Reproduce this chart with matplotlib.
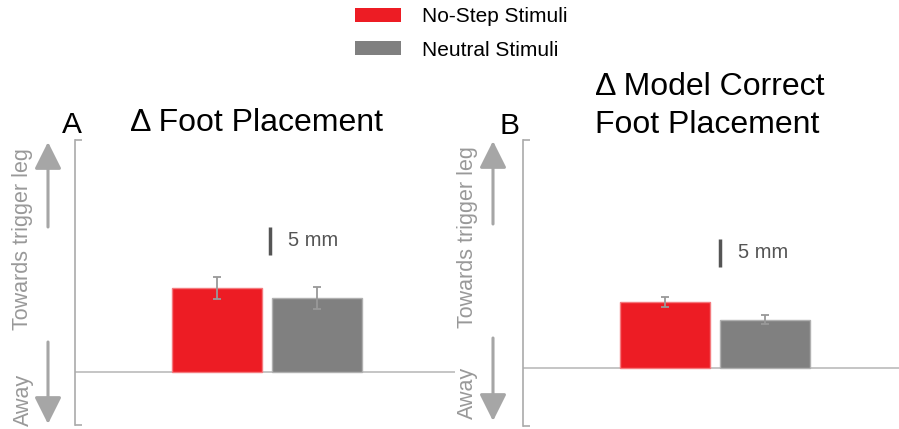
import matplotlib
matplotlib.use('Agg')
import matplotlib.pyplot as plt
from matplotlib.patches import Patch, FancyArrowPatch

plt.rcParams['font.family'] = ['Liberation Sans', 'DejaVu Sans']

# data (mm)
conditions = ['No-Step Stimuli', 'Neutral Stimuli']
colors = ['#ED1C24', '#808080']
edge_colors = ['#F47A7E', '#B0B0B0']
foot_means = [15.0, 13.2]
foot_err = [2.0, 2.0]
model_means = [11.8, 8.6]
model_err = [0.9, 0.8]
scale_mm = 5

W, H = 899, 429
fig = plt.figure(figsize=(W / 100, H / 100), dpi=100)


def fx(x):
    return x / W


def fy(y):
    return 1 - y / H


def make_panel(left, right, top, bottom, zero_y, means, errs, scale_x, scale_top):
    ax = fig.add_axes([fx(left), fy(bottom), fx(right) - fx(left), fy(top) - fy(bottom)])
    ppm = 5.6  # pixels per mm
    ymax = (zero_y - top) / ppm
    ymin = -(bottom - zero_y) / ppm
    ax.set_ylim(ymin, ymax)
    ax.set_xlim(-1.42, (right - left) / 100 - 1.42)
    for i in range(2):
        ax.bar(i, means[i], width=0.9, color=colors[i], edgecolor=edge_colors[i], linewidth=1, zorder=2)
        ax.errorbar(i, means[i], yerr=errs[i], color='#999999', capsize=3, elinewidth=1.3,
                    capthick=1.3, zorder=3)
    ax.axhline(0, color='#BBBBBB', lw=1.2, zorder=1)
    for s in ['top', 'right', 'bottom']:
        ax.spines[s].set_visible(False)
    ax.spines['left'].set_color('#AAAAAA')
    ax.spines['left'].set_linewidth(1.2)
    ax.set_xticks([])
    ax.set_yticks([ymin, ymax])
    ax.tick_params(axis='y', direction='in', length=5, width=1.2, color='#AAAAAA', labelleft=False)
    # scale bar
    sb_top = (zero_y - scale_top) / ppm
    ax.plot([scale_x, scale_x], [sb_top - scale_mm, sb_top], color='#555555', lw=2.5,
            solid_capstyle='butt')
    ax.text(scale_x + 0.18, sb_top - scale_mm / 2, '5 mm', color='#555555', fontsize=14.5,
            va='center', ha='left')
    return ax


make_panel(75, 455, 140, 425, 372, foot_means, foot_err, 0.53, 227)
make_panel(523, 899, 140, 426, 368, model_means, model_err, 0.55, 239)


def side_labels(x_arrow, x_text, up, down, towards_y, away_y):
    arrow_kw = dict(arrowstyle='-|>,head_length=1.5,head_width=0.75', color='#A6A6A6', lw=2.2)
    for seg in (up, down):
        fig.add_artist(FancyArrowPatch(
            (fx(x_arrow), fy(seg[0])), (fx(x_arrow), fy(seg[1])), transform=fig.transFigure,
            mutation_scale=11, shrinkA=0, shrinkB=0, **arrow_kw))
    fig.text(fx(x_text), fy(towards_y), 'Towards trigger leg', rotation=90, color='#999999',
             fontsize=15.5, ha='center', va='center')
    fig.text(fx(x_text), fy(away_y), 'Away', rotation=90, color='#999999',
             fontsize=15.5, ha='center', va='center')


side_labels(48, 23, (227, 142), (342, 424), 239, 400)
side_labels(493, 467, (224, 141), (338, 421), 237, 393)

# titles
fig.text(fx(62), fy(133), 'A', fontsize=21.5, va='baseline', ha='left')
fig.text(fx(130), fy(131), 'Δ Foot Placement', fontsize=23, va='baseline', ha='left')
fig.text(fx(500), fy(134), 'B', fontsize=21.5, va='baseline', ha='left')
fig.text(fx(595), fy(95), 'Δ Model Correct', fontsize=23, va='baseline', ha='left')
fig.text(fx(595), fy(133), 'Foot Placement', fontsize=23, va='baseline', ha='left')

# legend
handles = [Patch(facecolor=c, edgecolor='none') for c in colors]
fig.legend(handles, conditions, loc='upper left', bbox_to_anchor=(fx(355), fy(7)),
           frameon=False, fontsize=15, handlelength=2.2, handleheight=0.68,
           handletextpad=1.0, labelspacing=0.7, borderpad=0, borderaxespad=0)

fig.savefig('out.png', dpi=100)
